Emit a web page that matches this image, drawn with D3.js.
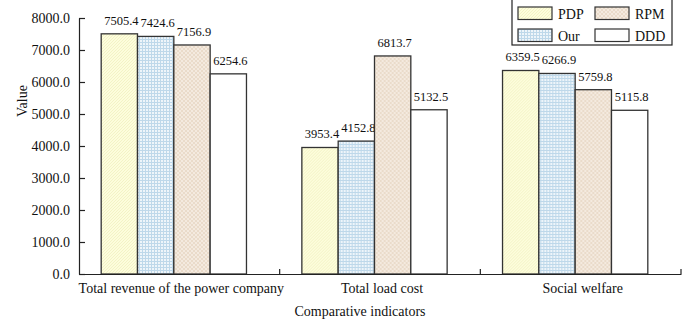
<!DOCTYPE html>
<html>
<head>
<meta charset="utf-8">
<script src="https://cdn.jsdelivr.net/npm/d3@7"></script>
<style>
  html, body { margin: 0; padding: 0; background: #fff; }
  svg { display: block; font-family: "Liberation Serif", "Times New Roman", serif; }
</style>
</head>
<body>
<svg id="chart" width="700" height="326"></svg>
<script>
// Comparative indicators for four methods
const categories = ["Total revenue of the power company", "Total load cost", "Social welfare"];
const seriesNames = ["PDP", "Our", "RPM", "DDD"];
const PDP = [7505.4, 3953.4, 6359.5];
const Our = [7424.6, 4152.8, 6266.9];
const RPM = [7156.9, 6813.7, 5759.8];
const DDD = [6254.6, 5132.5, 5115.8];
const yTicks = [0, 1000, 2000, 3000, 4000, 5000, 6000, 7000, 8000];

const seriesValues = { PDP, Our, RPM, DDD };
const serif = "Liberation Serif, Times New Roman, serif";

const svg = d3.select("#chart");
const plotL = 79, plotR = 681, plotT = 18, plotB = 274;

const x0 = d3.scaleBand().domain(categories).range([plotL, plotR]).padding(0);
const bw = x0.bandwidth();
const groupW = bw * 0.724;
const gStart = (bw - groupW) / 2 - 5.5;
const x1 = d3.scaleBand().domain(seriesNames).range([gStart, gStart + groupW]).padding(0);
const y = d3.scaleLinear().domain([0, 8000]).range([plotB, plotT]);

// Fill patterns
const defs = svg.append("defs");
const pPDP = defs.append("pattern").attr("id", "pat-PDP").attr("patternUnits", "userSpaceOnUse")
  .attr("width", 3).attr("height", 3);
pPDP.append("rect").attr("width", 3).attr("height", 3).attr("fill", "#fdfddc");
pPDP.append("path").attr("d", "M0,3 L3,0").attr("stroke", "#f0f0c0").attr("stroke-width", 0.8);

const pOur = defs.append("pattern").attr("id", "pat-Our").attr("patternUnits", "userSpaceOnUse")
  .attr("width", 3).attr("height", 3);
pOur.append("rect").attr("width", 3).attr("height", 3).attr("fill", "#eef5fa");
pOur.append("path").attr("d", "M0,0.5 H3 M0.5,0 V3").attr("stroke", "#bed8ea").attr("stroke-width", 1);

const pRPM = defs.append("pattern").attr("id", "pat-RPM").attr("patternUnits", "userSpaceOnUse")
  .attr("width", 4).attr("height", 4);
pRPM.append("rect").attr("width", 4).attr("height", 4).attr("fill", "#f4eadf");
pRPM.append("rect").attr("x", 0).attr("y", 0).attr("width", 2).attr("height", 2).attr("fill", "#eadbca");
pRPM.append("rect").attr("x", 2).attr("y", 2).attr("width", 2).attr("height", 2).attr("fill", "#eadbca");

const fills = { PDP: "url(#pat-PDP)", Our: "url(#pat-Our)", RPM: "url(#pat-RPM)", DDD: "#ffffff" };

// Bars
const groups = svg.append("g").selectAll("g")
  .data(categories)
  .join("g")
  .attr("transform", d => `translate(${x0(d)},0)`);

const cells = groups.selectAll("g.bar")
  .data((c, i) => seriesNames.map(s => ({ s, v: seriesValues[s][i] })))
  .join("g").attr("class", "bar");

cells.append("rect")
  .attr("x", d => x1(d.s))
  .attr("y", d => y(d.v))
  .attr("width", x1.bandwidth())
  .attr("height", d => y(0) - y(d.v))
  .attr("fill", d => fills[d.s])
  .attr("stroke", "#333")
  .attr("stroke-width", 1.3);

cells.append("text")
  .attr("x", d => x1(d.s) + x1.bandwidth() / 2 + 2)
  .attr("y", d => y(d.v) - 9)
  .attr("text-anchor", "middle")
  .attr("font-family", serif)
  .attr("font-size", 12.5)
  .attr("fill", "#111")
  .text(d => d.v.toFixed(1));

// Y axis
const yAxis = d3.axisLeft(y).tickValues(yTicks).tickFormat(d => d.toFixed(1))
  .tickSizeInner(-6).tickSizeOuter(0).tickPadding(9);
const gy = svg.append("g").attr("transform", `translate(${plotL},0)`).call(yAxis)
  .attr("font-family", serif);
gy.select(".domain").attr("stroke", "#222").attr("stroke-width", 1.2);
gy.selectAll(".tick line").attr("stroke", "#222").attr("stroke-width", 1.2);
gy.selectAll(".tick text").attr("font-size", 14).attr("fill", "#111");

// X axis
const xAxis = d3.axisBottom(x0).tickValues([]).tickSizeOuter(0);
const gx = svg.append("g").attr("transform", `translate(0,${plotB})`).call(xAxis)
  .attr("font-family", serif);
gx.select(".domain").attr("stroke", "#222").attr("stroke-width", 1.2);
// separators between categories
gx.selectAll("line.sep")
  .data(categories)
  .join("line").attr("class", "sep")
  .attr("x1", d => x0(d) + bw).attr("x2", d => x0(d) + bw)
  .attr("y1", 0).attr("y2", -5)
  .attr("stroke", "#222").attr("stroke-width", 1.2);
gx.selectAll("text.cat")
  .data(categories)
  .join("text").attr("class", "cat")
  .attr("x", d => x0(d) + bw / 2 + 2)
  .attr("y", 19)
  .attr("text-anchor", "middle")
  .attr("font-size", 14)
  .attr("fill", "#111")
  .text(d => d);

// Axis titles
svg.append("text")
  .attr("x", 360).attr("y", 316)
  .attr("text-anchor", "middle")
  .attr("font-size", 14).attr("fill", "#111")
  .text("Comparative indicators");

svg.append("text")
  .attr("transform", `translate(27,${(plotT + plotB) / 2 - 45}) rotate(-90)`)
  .attr("text-anchor", "middle")
  .attr("font-size", 14).attr("fill", "#111")
  .text("Value");

// Legend
const legend = svg.append("g").attr("transform", "translate(512,-3)");
legend.append("rect").attr("width", 160).attr("height", 48)
  .attr("fill", "#fff").attr("stroke", "#222").attr("stroke-width", 1.2);
const items = legend.selectAll("g.item")
  .data(seriesNames)
  .join("g").attr("class", "item")
  .attr("transform", (d, i) => `translate(${6 + Math.floor(i / 2) * 77},${10 + (i % 2) * 22})`);
items.append("rect").attr("width", 34).attr("height", 12.5)
  .attr("fill", d => fills[d]).attr("stroke", "#333").attr("stroke-width", 1.2);
items.append("text").attr("x", 40).attr("y", 11.5)
  .attr("font-size", 14).attr("fill", "#111")
  .text(d => d);
</script>
</body>
</html>
